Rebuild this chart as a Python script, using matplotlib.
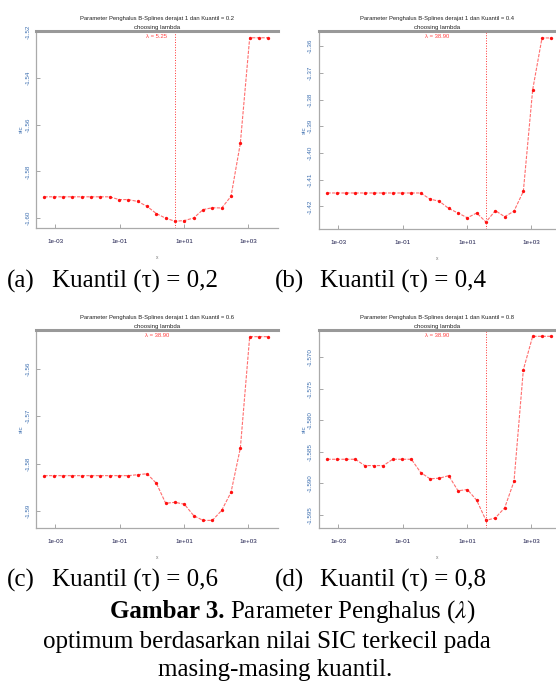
import numpy as np
import matplotlib
matplotlib.use("Agg")
import matplotlib.pyplot as plt

# lambda grid (log10), shared by all four fits
lam_log = [-3.34, -3.05, -2.76, -2.47, -2.18, -1.89, -1.60, -1.31, -1.02, -0.73,
           -0.44, -0.15, 0.14, 0.43, 0.72, 1.01, 1.30, 1.59, 1.88, 2.17,
           2.46, 2.75, 3.04, 3.33, 3.62]
lam = 10.0 ** np.array(lam_log)

sic_02 = [-1.5909, -1.5909, -1.5909, -1.5909, -1.5909, -1.5909, -1.5909, -1.5909,
          -1.5921, -1.5921, -1.5929, -1.5950, -1.5981, -1.6001, -1.6014, -1.6011,
          -1.6000, -1.5964, -1.5956, -1.5957, -1.5907, -1.5679, -1.5226, -1.5226,
          -1.5226]
sic_04 = [-1.4150, -1.4150, -1.4150, -1.4150, -1.4150, -1.4150, -1.4150, -1.4150,
          -1.4150, -1.4150, -1.4150, -1.4173, -1.4181, -1.4208, -1.4225, -1.4243,
          -1.4225, -1.4259, -1.4216, -1.4239, -1.4218, -1.4144, -1.3763, -1.3569,
          -1.3569]
sic_06 = [-1.5825, -1.5825, -1.5825, -1.5825, -1.5825, -1.5825, -1.5825, -1.5825,
          -1.5825, -1.5825, -1.5823, -1.5821, -1.5841, -1.5883, -1.5881, -1.5885,
          -1.5909, -1.5919, -1.5919, -1.5898, -1.5860, -1.5767, -1.5533, -1.5533,
          -1.5533]
sic_08 = [-1.5862, -1.5862, -1.5862, -1.5862, -1.5872, -1.5872, -1.5872, -1.5862,
          -1.5862, -1.5862, -1.5883, -1.5893, -1.5892, -1.5888, -1.5912, -1.5910,
          -1.5927, -1.5959, -1.5955, -1.5939, -1.5897, -1.5720, -1.5667, -1.5667,
          -1.5667]

kuantil = ["0.2", "0.4", "0.6", "0.8"]
kuantil_id = ["0,2", "0,4", "0,6", "0,8"]
panel_tag = ["(a)", "(b)", "(c)", "(d)"]
series = [sic_02, sic_04, sic_06, sic_08]
best_idx = [14, 17, 17, 17]
show_vline = [True, True, False, True]

yticks = [[-1.52, -1.54, -1.56, -1.58, -1.60],
          [-1.36, -1.37, -1.38, -1.39, -1.40, -1.41, -1.42],
          [-1.56, -1.57, -1.58, -1.59],
          [-1.570, -1.575, -1.580, -1.585, -1.590, -1.595]]
ytick_fmt = ["%.2f", "%.2f", "%.2f", "%.3f"]
ylims = [(-1.6043, -1.5197), (-1.4285, -1.3543), (-1.5935, -1.5519), (-1.5971, -1.5657)]
xticks = [1e-3, 1e-1, 1e1, 1e3]
xticklabels = ["1e-03", "1e-01", "1e+01", "1e+03"]

W, H = 556, 691
fig = plt.figure(figsize=(W / 100, H / 100), dpi=100)
small = ["Liberation Sans Narrow", "Liberation Sans", "DejaVu Sans"]
serif = "Liberation Serif"
plt.rcParams["mathtext.fontset"] = "stix"

# axes boxes in pixels: left, top, right, bottom
boxes = [(36, 31, 278, 228), (318.7, 31, 556, 229),
         (36, 330, 278, 528), (318.7, 330, 556, 528)]
xlims = [(10 ** -3.60, 10 ** 3.92), (10 ** -3.61, 10 ** 3.765),
         (10 ** -3.60, 10 ** 3.92), (10 ** -3.61, 10 ** 3.765)]

for i in range(4):
    l, t, r, b = boxes[i]
    ax = fig.add_axes([l / W, 1 - b / H, (r - l) / W, (b - t) / H])
    ax.plot(lam, series[i], color="#ff3030", lw=0.8, ls=(0, (3, 1.2)), alpha=0.7)
    ax.plot(lam, series[i], "o", color="#ff1010", ms=2.4, mew=0)
    ax.set_xscale("log")
    ax.set_xlim(*xlims[i])
    ax.set_ylim(*ylims[i])
    ax.minorticks_off()
    ax.set_xticks(xticks)
    ax.set_xticklabels(xticklabels, family=small, fontsize=4.5, color="#1a1a4a")
    ax.set_yticks(yticks[i])
    ax.set_yticklabels([ytick_fmt[i] % v for v in yticks[i]], family=small,
                       fontsize=4.5, color="#3d6fb0", rotation=90, va="center")
    ax.tick_params(direction="in", length=3, width=0.6, color="#999999")
    ax.tick_params(axis="y", pad=4)
    ax.tick_params(axis="x", pad=8)
    for s in ["left", "bottom"]:
        ax.spines[s].set_color("#aaaaaa")
        ax.spines[s].set_linewidth(0.9)
    ax.spines["top"].set_color("#999999")
    ax.spines["top"].set_linewidth(2.2)
    ax.spines["right"].set_visible(False)

    if show_vline[i]:
        ax.axvline(lam[best_idx[i]], color="#ff3030", ls=":", lw=0.7)
    ax.text(0.5, 1.065, "Parameter Penghalus B-Splines derajat 1 dan Kuantil = " + kuantil[i],
            transform=ax.transAxes, ha="center", va="center", fontsize=4.2,
            family=small, color="#222222")
    ax.text(0.5, 1.02, "choosing lambda", transform=ax.transAxes, ha="center",
            va="center", fontsize=4.4, family=small, color="#222222")
    ax.text(0.5, 0.985, "\u03bb = %.2f" % lam[best_idx[i]], transform=ax.transAxes,
            ha="center", va="top", fontsize=4.2, family=small, color="#ff4040")
    ax.set_ylabel("sic", fontsize=4.5, family=small, color="#3d6fb0", labelpad=1)
    ax.set_xlabel("x", fontsize=3.5, family=small, color="#777777", labelpad=8)

    # caption below each panel
    cy = 281 if i < 2 else 580
    cx = 7 if i % 2 == 0 else 275
    fig.text(cx / W, 1 - cy / H, panel_tag[i], fontsize=18, family=serif,
             va="center", ha="left")
    fig.text((cx + 45) / W, 1 - cy / H, "Kuantil (\u03c4) = " + kuantil_id[i],
             fontsize=18, family=serif, va="center", ha="left")

renderer = fig.canvas.get_renderer()
bold = fig.text(110 / W, 1 - 612 / H, "Gambar 3.", fontsize=18, family=serif,
                weight="bold", va="center", ha="left")
bx = bold.get_window_extent(renderer).x1
fig.text((bx + 5) / W, 1 - 612 / H, r"Parameter Penghalus ($\lambda$)", fontsize=18,
         family=serif, va="center", ha="left")
fig.text(267 / W, 1 - 642 / H, "optimum berdasarkan nilai SIC terkecil pada",
         fontsize=18, family=serif, va="center", ha="center")
fig.text(275 / W, 1 - 670 / H, "masing-masing kuantil.", fontsize=18,
         family=serif, va="center", ha="center")

fig.savefig("out.png", dpi=100)
